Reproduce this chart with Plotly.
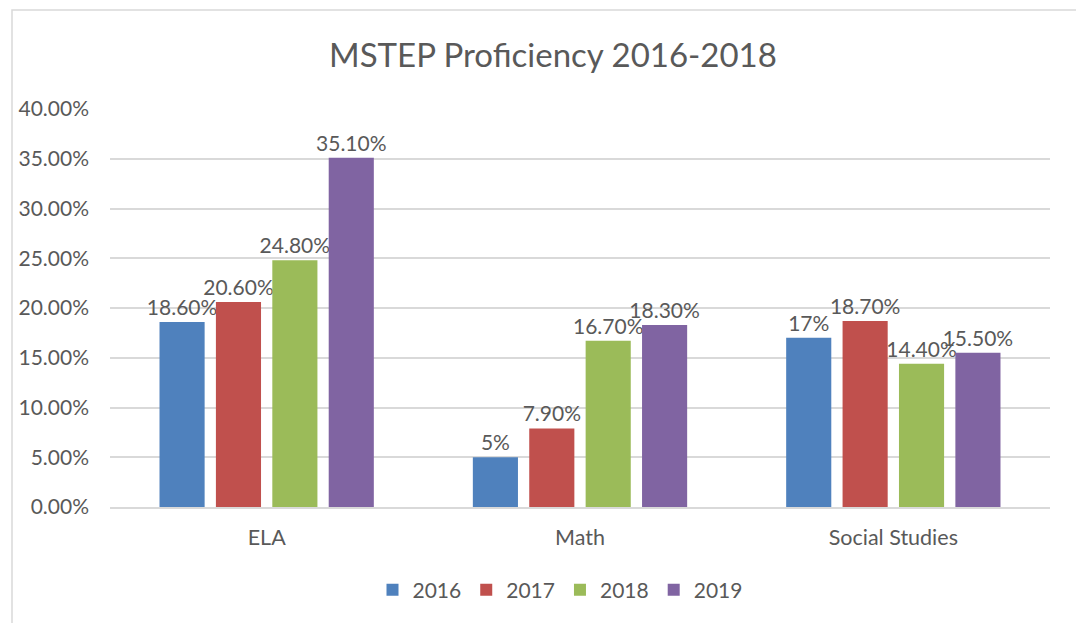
import plotly.graph_objects as go

categories = ["ELA", "Math", "Social Studies"]
years = ["2016", "2017", "2018", "2019"]
values = {
    "2016": [0.186, 0.05, 0.17],
    "2017": [0.206, 0.079, 0.187],
    "2018": [0.248, 0.167, 0.144],
    "2019": [0.351, 0.183, 0.155],
}
labels = {
    "2016": ["18.60%", "5%", "17%"],
    "2017": ["20.60%", "7.90%", "18.70%"],
    "2018": ["24.80%", "16.70%", "14.40%"],
    "2019": ["35.10%", "18.30%", "15.50%"],
}
colors = {"2016": "#4F81BD", "2017": "#C0504D", "2018": "#9BBB59", "2019": "#8064A2"}

FONT = "Lato, Open Sans, sans-serif"
TXT = "#595959"
OFF = 8  # page body margin

fig = go.Figure()
for y in years:
    fig.add_trace(go.Bar(
        x=categories, y=values[y], name=y,
        marker=dict(color=colors[y], line=dict(width=0)),
        text=labels[y], textposition="outside", cliponaxis=False,
        constraintext="none",
        textfont=dict(size=21, color=TXT, family=FONT),
    ))

W, H = 1084, 623
L = 110 - OFF
R = W - (1050 - OFF)
T = 109 - OFF
B = H - (507 - OFF)
pw, ph = W - L - R, H - T - B

def py(pix):
    return (H - B - (pix - OFF)) / ph

def px(pix):
    return (pix - OFF - L) / pw

fig.update_layout(
    width=W, height=H,
    margin=dict(l=L, r=R, t=T, b=B, autoexpand=False),
    paper_bgcolor="white", plot_bgcolor="white",
    barmode="group", bargap=0.28, bargroupgap=0.2,
    title=dict(text="MSTEP Proficiency 2016-2018", x=(553 - OFF) / W, xanchor="center",
               xref="container",
               y=1 - (55 - OFF) / H, yanchor="middle",
               font=dict(size=33, color=TXT, family=FONT)),
    font=dict(family=FONT, color=TXT),
    legend=dict(orientation="h", x=px(560), xanchor="center", y=py(590), yanchor="middle",
                font=dict(size=21, color=TXT, family=FONT), itemwidth=30,
                traceorder="normal"),
    showlegend=True,
    shapes=[dict(type="rect", xref="paper", yref="paper",
                 x0=px(12), x1=px(W + 20),
                 y0=py(H + 20), y1=py(10),
                 line=dict(color="#D9D9D9", width=1.5), fillcolor="rgba(0,0,0,0)", layer="below")],
)
fig.update_yaxes(range=[0, 0.4], dtick=0.05, tickformat=".2%", showgrid=True,
                 gridcolor="#D9D9D9", gridwidth=1.5, zeroline=False, showline=False,
                 tickfont=dict(size=21, color=TXT, family=FONT), ticks="", ticklabelstandoff=20)
fig.update_xaxes(showline=True, linecolor="#D9D9D9", linewidth=1.5, ticks="",
                 tickfont=dict(size=21.5, color=TXT, family=FONT), ticklabelstandoff=10)

fig.write_html("out.html")
